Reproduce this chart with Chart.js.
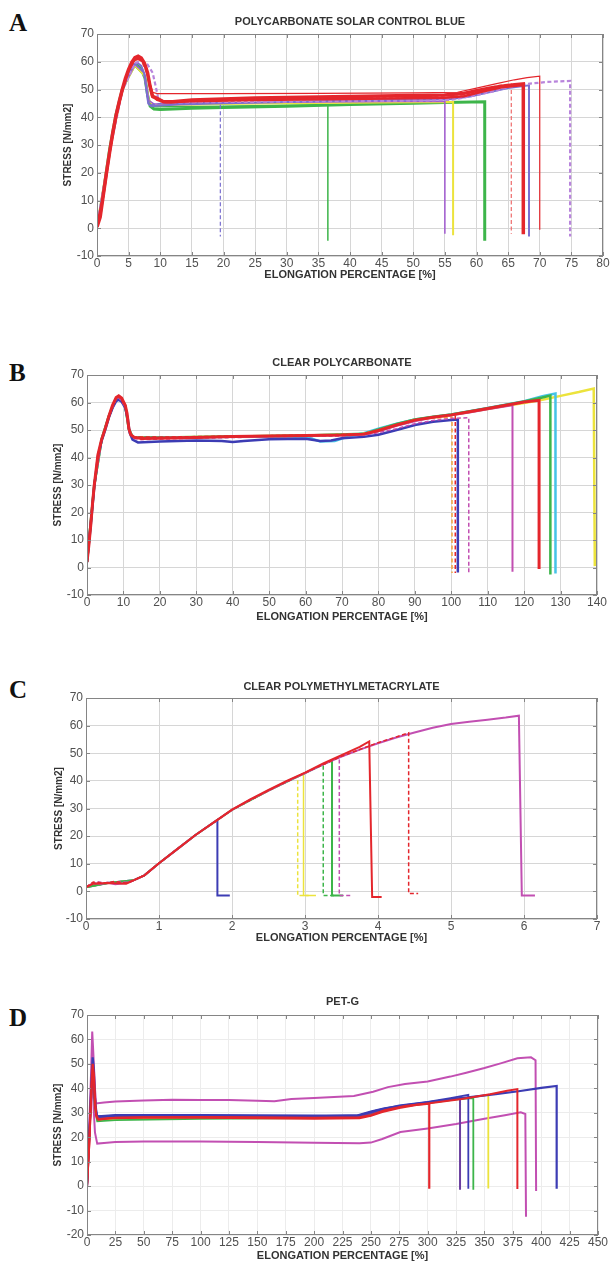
<!DOCTYPE html>
<html>
<head>
<meta charset="utf-8">
<script src="https://cdn.jsdelivr.net/npm/chart.js@4.4.0/dist/chart.umd.min.js"></script>
<style>
  body { margin: 0; background: #fff; width: 610px; height: 1262px; position: relative; overflow: hidden; }
  canvas { position: absolute; left: 0; }
  .tag { position: absolute; left: 9px; font: bold 25px "Liberation Serif", "Times New Roman", serif; line-height: 1; color: #111; }
</style>
</head>
<body>
<div class="tag" style="top:10px">A</div>
<div class="tag" style="top:360px">B</div>
<div class="tag" style="top:677px">C</div>
<div class="tag" style="top:1005px">D</div>
<canvas id="ca" width="610" height="290" style="top:0px"></canvas>
<canvas id="cb" width="610" height="290" style="top:340px"></canvas>
<canvas id="cc" width="610" height="290" style="top:660px"></canvas>
<canvas id="cd" width="610" height="290" style="top:975px"></canvas>
<script>
// colours of the test runs
var RED = '#e4262c', PINK = '#ee6a6a', BLUE = '#3c3cb4', LAV = '#7a6fd0', GREEN = '#3db54a',
    YEL = '#ece33c', PURP = '#a15bd0', LILAC = '#b884dc', MAG = '#c24fb2', CYAN = '#45c3e6',
    ORANGE = '#f2a23c', VIOLET = '#6b3fa0';

// ---- A: polycarbonate solar control blue  [elongation %, stress N/mm2]
var aRedMain = [[0,0.5],[0.5,4],[1,12],[1.5,20],[2,27.5],[2.5,34.5],[3,40.5],[3.5,45.5],[4,50],[4.5,54],[5,57.2],[5.5,59.8],[6,61.5],[6.5,62],[7,61.3],[7.5,59.5],[8,56],[8.4,51],[8.8,47.5],[9.5,46.8],[10.5,45.6],[12,45.6],[15,46.2],[20,46.6],[25,46.9],[30,47.1],[35,47.3],[40,47.5],[45,47.7],[50,47.8],[55,48],[58,48.6],[60,49.6],[62,50.5],[64,51.2],[66,51.7],[67.4,52],[67.4,-2.2]];
var aRed2 = [[0,0.5],[1,11.8],[2,27.3],[3,40.3],[4,49.8],[5,57],[5.8,60.6],[6.5,61.2],[7.2,60.2],[7.8,57.5],[8.3,52],[8.7,47.8],[9.5,46.3],[11,45.4],[15,45.8],[25,46.2],[40,46.6],[55,47],[58,47.6],[61,49.3],[64,50.8],[67.4,51.6]];
var aRedThin = [[0,0.5],[1,11.5],[2,27],[3,40],[4,49.5],[5,56.5],[6,60.5],[6.8,61],[7.5,59.5],[8.3,53],[8.8,49],[9.5,48.5],[20,48.5],[35,48.6],[50,48.8],[57,49],[60,50.5],[63,52],[66,53.5],[68,54.3],[70,54.8],[70,-0.5]];
var aRedDash = [[0,0.5],[1,11.5],[2,27],[3,40],[4,49.5],[5,57],[6,61],[7,60.3],[8,55],[8.8,47],[10,46],[15,46],[25,46.5],[40,47],[55,47.5],[58,48],[61,50],[63.5,51.5],[65.5,52],[65.5,-2]];
var aBlue = [[0,0.5],[1,12],[2,28],[3,41],[4,50],[5,56],[5.8,59],[6.4,59.6],[7,58.5],[7.5,55.5],[7.8,50],[8.1,45],[8.6,44],[10,44.2],[13,44.6],[20,45],[30,45.5],[40,46],[50,46.3],[56,46.6],[59,47.5],[62,49],[65,50.5],[68.3,51.5],[68.3,-3]];
var aBlueDash = [[0,0.5],[2,28],[4,50],[6,59.3],[7.4,56],[8,46],[8.6,44.5],[10,45],[15,45.2],[19.5,45.3],[19.5,-3]];
var aGreen = [[0,1],[0.5,5],[1,13],[2,28.5],[3,41],[4,50],[5,55.5],[5.7,58.3],[6.3,58.8],[7,57.5],[7.6,54],[8,48],[8.4,44],[9,43],[10,42.8],[15,43.2],[20,43.5],[30,44],[40,44.6],[50,45],[55,45.3],[61.3,45.6],[61.3,-4.5]];
var aGreenThin = [[0,1],[2,28],[4,50],[6,58.5],[7.5,55],[8.2,45],[9,43.8],[20,44],[30,44.3],[36.5,44.5],[36.5,-4.5]];
var aYellow = [[0,1],[2,28],[4,50],[6,58.7],[7.5,55],[8.2,46],[9,44.3],[20,44.8],[30,45],[45,45.3],[56.3,45.5],[56.3,-2.5]];
var aPurple = [[0,1],[2,28],[4,50],[6,59],[7.5,56],[8.2,46],[9,44.8],[20,45.2],[40,45.6],[55,45.8],[55,-2]];
var aPurpleDash = [[0,0.5],[2,27.5],[4,49.5],[6,59.5],[7,60.3],[8,59],[8.8,56],[9.3,51],[9.7,46.5],[11,45.3],[20,45.5],[40,45.8],[52,46],[56,46.3],[59,47.5],[62,49],[65,50.8],[68,52],[71,52.7],[74.8,53.1],[74.8,-3]];

// ---- B: clear polycarbonate
var bRed = [[0,2],[0.5,8],[1,15],[1.5,23],[2,30],[3,41],[4,46.5],[5,50.5],[6,55],[7,59],[8,61.8],[8.7,62.4],[9.5,61.6],[10.5,59],[11,56],[11.5,50.5],[12,48.3],[13,47.3],[15,46.9],[20,47],[30,47.3],[40,47.6],[50,47.8],[60,48],[70,48.2],[76,48.5],[80,49.8],[85,51.8],[90,53.6],[95,54.6],[100,55.5],[105,56.6],[110,57.8],[115,59],[120,60.2],[124.1,60.8],[124.1,-0.5]];
var bBlue = [[0,2],[1,15],[2,29.5],[3,40.5],[4,46],[5,50],[6,54.5],[7,58],[8,60.5],[8.7,61],[9.5,60.3],[10.5,58],[11.2,54],[11.7,49],[12.5,46.5],[14,45.5],[20,45.8],[30,46.2],[37,46],[40,45.6],[43,46],[50,46.6],[60,46.8],[64,46],[67,46.2],[70,47],[76,47.5],[80,48.3],[85,50],[90,51.8],[95,53],[100,53.6],[101.8,53.8],[101.8,-1.8]];
var bMagDash = [[0,2],[2,30],[4,46.3],[6,54.8],[8,61.3],[8.7,61.8],[10.5,58.5],[11.5,50],[12.5,47],[15,46.5],[30,47],[50,47.5],[70,47.8],[78,48.5],[85,50.5],[90,52.3],[95,53.5],[100,54.2],[104.8,54.5],[104.8,-2.5]];
var bOrangeDash = [[0,2],[2,30],[4,46.5],[6,55],[8,61.6],[8.7,62],[10.5,58.8],[11.5,50.3],[12.5,47.5],[20,47.2],[40,47.6],[60,48],[75,48.6],[80,50],[85,52],[90,53.8],[95,54.3],[100.2,54.6],[100.2,-2]];
var bRedDash = [[0,2],[2,30],[4,46.5],[6,55],[8,61.8],[8.7,62.2],[10.5,58.8],[11.5,50.3],[12.5,47.5],[20,47.4],[40,47.8],[60,48.1],[76,48.5],[80,49.8],[85,51.8],[90,53.6],[95,54.6],[101.1,55.4],[101.1,-2]];
var bPurple = [[0,2],[2,30],[4,46.3],[6,54.8],[8,61.5],[8.7,62],[10.5,58.7],[11.5,50.3],[12.5,47.3],[20,47.2],[40,47.5],[60,47.8],[76,48.3],[80,49.5],[85,51.5],[90,53.2],[95,54.5],[100,55.4],[105,56.4],[110,57.5],[116.8,59],[116.8,-1.5]];
var bGreen = [[0,2],[2,30],[4,46.5],[6,55],[8,61.6],[8.7,62.1],[10.5,58.8],[11.5,50.3],[12.5,47.5],[20,47.3],[40,47.6],[60,48],[76,48.6],[80,50.2],[85,52.2],[90,53.8],[95,54.8],[100,55.6],[110,57.9],[120,60.4],[125,61.8],[127.2,62.5],[127.2,-2.5]];
var bCyan = [[0,2],[2,30],[4,46.5],[6,55],[8,61.6],[8.7,62.1],[10.5,58.8],[11.5,50.3],[12.5,47.5],[20,47.2],[40,47.5],[60,47.6],[64,45.8],[68,46],[72,47.8],[76,48.8],[80,50.5],[85,52.3],[90,53.8],[100,55.6],[110,58],[120,60.5],[125,62.3],[128.6,63.3],[128.6,-2.2]];
var bYellow = [[0,2],[2,30],[4,46.5],[6,55],[8,61.6],[8.7,62],[10.5,58.8],[11.5,50.3],[12.5,47.5],[20,47.3],[40,47.6],[60,48],[76,48.5],[80,50],[85,52],[90,53.7],[100,55.5],[110,57.6],[115,58.8],[120,59.8],[125,61],[130,62.4],[135,63.8],[139.1,65.1],[139.4,0.5]];

// ---- C: clear polymethylmetacrylate
var cMag = [[0,1.5],[0.1,3],[0.2,2.7],[0.3,3.2],[0.4,2.6],[0.55,3],[0.65,4],[0.8,5.8],[1,10.2],[1.25,15.3],[1.5,20.4],[1.8,25.9],[2,29.5],[2.25,33.2],[2.5,36.5],[2.75,39.8],[3,42.8],[3.25,46],[3.5,48.8],[3.75,51.3],[4,53.6],[4.25,55.7],[4.5,57.5],[4.75,59.2],[5,60.6],[5.25,61.4],[5.5,62.1],[5.75,62.9],[5.93,63.6],[5.97,-1.5],[6.15,-1.5]];
var cRed = [[0,1.5],[0.1,2.8],[0.3,3],[0.55,2.8],[0.65,4],[0.8,5.8],[1,10.2],[1.25,15.3],[1.5,20.4],[1.8,25.9],[2,29.6],[2.25,33.3],[2.5,36.7],[2.75,40],[3,43],[3.25,46.3],[3.5,49.3],[3.75,52.3],[3.88,54.3],[3.92,-2],[4.05,-2]];
var cRedDash = [[0,1.5],[0.1,3.4],[0.25,3],[0.4,3.6],[0.55,3],[0.65,4],[0.8,5.8],[1,10.2],[1.5,20.4],[2,29.5],[2.5,36.5],[3,42.9],[3.5,48.9],[4,53.8],[4.25,55.9],[4.42,57.4],[4.42,-0.8],[4.55,-0.8]];
var cMagDash = [[0,1.5],[0.15,3.5],[0.3,2.9],[0.45,3.5],[0.6,3.3],[0.8,5.8],[1,10.2],[1.5,20.4],[2,29.5],[2.5,36.5],[3,42.8],[3.25,46],[3.47,48.5],[3.47,-1.5],[3.63,-1.5]];
var cGreen = [[0,1.5],[0.3,3],[0.65,4],[0.8,5.8],[1,10.2],[1.5,20.4],[2,29.5],[2.5,36.5],[3,42.8],[3.25,46],[3.37,47.4],[3.37,-1.5],[3.52,-1.5]];
var cGreenDash = [[0,1.5],[0.3,3],[0.65,4],[0.8,5.8],[1,10.2],[1.5,20.4],[2,29.5],[2.5,36.5],[3,42.8],[3.25,46],[3.25,-1.5],[3.4,-1.5]];
var cYellow = [[0,1.5],[0.3,3],[0.65,4],[0.8,5.8],[1,10.2],[1.5,20.4],[2,29.5],[2.5,36.5],[2.75,39.8],[2.98,42.6],[2.98,-1.5],[3.15,-1.5]];
var cYellowDash = [[0,1.5],[0.3,3],[0.65,4],[0.8,5.8],[1,10.2],[1.5,20.4],[2,29.5],[2.5,36.5],[2.75,39.8],[2.9,41.6],[2.9,-1.5],[3.05,-1.5]];
var cBlue = [[0,1.5],[0.3,3],[0.65,4],[0.8,5.8],[1,10.2],[1.25,15.3],[1.5,20.4],[1.8,25.9],[1.8,-1.5],[1.97,-1.5]];

// ---- D: PET-G
var dRed = [[0,0],[2,18],[4,42],[5,50],[6,46],[7,36],[8,29],[10,27.3],[20,27.8],[50,28],[100,28],[150,27.8],[200,27.6],[240,27.8],[250,28.8],[260,30.3],[275,32],[290,33.2],[301.4,33.7],[301.4,-1.1]];
var dRed2 = [[0,0],[2,17],[4,40],[5,48],[6,44],[7,33],[8.5,28],[10,27.2],[25,28],[50,28.2],[100,28.3],[150,28.2],[200,28],[240,28.2],[250,29],[262,31],[280,32.8],[300,33.8],[330,35.6],[355,37.6],[370,39],[379,39.7],[379,-1.2]];
var dBlue = [[0,0],[2,20],[4,44],[5,52.7],[6,48],[7,36],[8.5,29],[10,28.5],[25,29],[50,29],[100,29],[150,28.9],[200,28.8],[237,28.8],[250,30.5],[262,31.8],[280,33],[300,34.3],[330,36],[360,37.6],[380,38.8],[400,40.2],[413.6,41],[413.6,-1.1]];
var dBlue2 = [[0,0],[4,41],[5,49],[7,34],[9,28.5],[25,28.8],[100,28.8],[200,28.6],[240,29],[255,31],[275,33],[300,34.5],[320,36],[335.8,37.3],[335.8,-1.1]];
var dViolet = [[0,0],[4,40],[5,48],[7,33],[9,28],[25,28.6],[100,28.6],[200,28.4],[240,28.6],[255,30.5],[275,32.5],[300,34.2],[315,35.2],[328.5,36],[328.5,-1.5]];
var dGreen = [[0,0],[4,40],[5,47],[7,32],[9,26.5],[25,27],[100,27.5],[200,27.8],[240,28],[255,30],[275,32.3],[300,34],[325,35.5],[340.2,36],[340.2,-1.5]];
var dYellow = [[0,0],[4,40],[5,47],[7,32],[9,27],[25,27.5],[100,28],[200,28.5],[240,28.5],[255,30.5],[275,32.5],[300,34],[330,35.8],[353.4,37.3],[353.4,-1]];
var dMagUp = [[0,0],[2,25],[3.5,45],[4.6,63.2],[5.5,55],[7,40],[8,33.8],[15,34.2],[25,34.6],[50,35],[75,35.3],[100,35.2],[125,35.2],[150,34.9],[165,34.7],[180,35.6],[200,36],[235,36.9],[252,38.6],[265,40.5],[280,41.8],[300,42.8],[320,44.8],[334,46.4],[350,48.3],[365,50.3],[379,52.3],[391,52.7],[395,51.5],[395.5,-2]];
var dMagLow = [[0,0],[2,20],[3.5,38],[4.6,45],[5.5,35],[7,22],[9,17.4],[15,17.6],[25,18],[50,18.3],[100,18.3],[150,18],[200,17.7],[240,17.5],[250,17.8],[260,19.3],[276,22.1],[300,23.6],[325,25.4],[350,27.6],[368,29],[382,30.2],[386,29.5],[386.6,-12.5]];

function run(pts, color, width, dashed) {
  return {
    data: pts.map(function(p) { return {x: p[0], y: p[1]}; }),
    showLine: true,
    borderColor: color,
    borderWidth: width,
    borderDash: dashed ? [4, 2.5] : [],
    pointRadius: 0,
    tension: 0
  };
}

// box round the plot, inward ticks and the panel title
var frame = {
  id: 'frame',
  afterDraw: function(chart, args, opts) {
    var ctx = chart.ctx, a = chart.chartArea, x = chart.scales.x, y = chart.scales.y;
    ctx.save();
    ctx.strokeStyle = '#858585';
    ctx.lineWidth = 1;
    ctx.strokeRect(Math.round(a.left) + 0.5, Math.round(a.top) + 0.5, Math.round(a.width) - 1, Math.round(a.height) - 1);
    ctx.beginPath();
    x.ticks.forEach(function(t) {
      var px = Math.round(x.getPixelForValue(t.value)) + 0.5;
      ctx.moveTo(px, a.bottom); ctx.lineTo(px, a.bottom - 4);
      ctx.moveTo(px, a.top); ctx.lineTo(px, a.top + 4);
    });
    y.ticks.forEach(function(t) {
      var py = Math.round(y.getPixelForValue(t.value)) + 0.5;
      ctx.moveTo(a.left, py); ctx.lineTo(a.left + 4, py);
      ctx.moveTo(a.right, py); ctx.lineTo(a.right - 4, py);
    });
    ctx.stroke();
    ctx.fillStyle = '#333';
    ctx.font = 'bold 11px "Liberation Sans", Arial, sans-serif';
    ctx.textAlign = 'center';
    ctx.textBaseline = 'middle';
    ctx.fillText(opts.text, (a.left + a.right) / 2, opts.y);
    ctx.restore();
  }
};

function panel(id, cfg, sets) {
  var H = 290, L = cfg.yTitleX - 6;
  return new Chart(document.getElementById(id), {
    type: 'scatter',
    data: { datasets: sets },
    options: {
      responsive: false,
      animation: false,
      layout: { padding: { top: cfg.top, left: L, right: 610 - cfg.right, bottom: 0 } },
      plugins: { legend: { display: false }, tooltip: { enabled: false }, frame: { text: cfg.title, y: cfg.titleY } },
      scales: {
        x: {
          type: 'linear', min: cfg.xmin, max: cfg.xmax,
          ticks: { stepSize: cfg.xstep, autoSkip: false, maxRotation: 0, padding: 0, color: '#505050', font: { size: 12 } },
          grid: { color: cfg.grid, drawTicks: false },
          border: { display: false },
          title: { display: true, text: 'ELONGATION PERCENTAGE [%]', color: '#333', font: { size: 11, weight: 'bold' }, padding: { top: 0, bottom: H - cfg.xTitleY - 6.6 } },
          afterFit: function(s) { s.height = H - cfg.bottom; }
        },
        y: {
          min: cfg.ymin, max: 70,
          ticks: { stepSize: 10, padding: 3, color: '#505050', font: { size: 12 } },
          grid: { color: cfg.grid, drawTicks: false },
          border: { display: false },
          title: { display: true, text: 'STRESS [N/mm2]', color: '#333', font: { size: 10, weight: 'bold' }, padding: 0 },
          afterFit: function(s) { s.width = cfg.left - L; }
        }
      }
    },
    plugins: [frame]
  });
}

Chart.defaults.font.family = '"Liberation Sans", Arial, sans-serif';

panel('ca', { title: 'POLYCARBONATE SOLAR CONTROL BLUE', titleY: 22, top: 34, bottom: 256, left: 97, right: 603, xTitleY: 275, yTitleX: 68,
  xmin: 0, xmax: 80, xstep: 5, ymin: -10, grid: '#d6d6d6' }, [
  run(aRedMain, RED, 3.5), run(aRed2, RED, 2.5), run(aRedThin, RED, 1.2), run(aRedDash, PINK, 1.2, true),
  run(aPurpleDash, LILAC, 2.2, true), run(aBlue, LAV, 2), run(aBlueDash, LAV, 1.2, true),
  run(aPurple, PURP, 1.5), run(aYellow, YEL, 2), run(aGreenThin, GREEN, 1.5), run(aGreen, GREEN, 3)
]);

panel('cb', { title: 'CLEAR POLYCARBONATE', titleY: 23, top: 35, bottom: 255, left: 87, right: 597, xTitleY: 277, yTitleX: 58,
  xmin: 0, xmax: 140, xstep: 10, ymin: -10, grid: '#d6d6d6' }, [
  run(bRed, RED, 3), run(bRedDash, RED, 1.5, true), run(bMagDash, MAG, 1.5, true), run(bBlue, BLUE, 2.5),
  run(bOrangeDash, ORANGE, 1.5, true), run(bPurple, MAG, 2), run(bGreen, GREEN, 2.5), run(bCyan, CYAN, 2.5), run(bYellow, YEL, 2.5)
]);

panel('cc', { title: 'CLEAR POLYMETHYLMETACRYLATE', titleY: 27, top: 38, bottom: 259, left: 86, right: 597, xTitleY: 278, yTitleX: 59,
  xmin: 0, xmax: 7, xstep: 1, ymin: -10, grid: '#d6d6d6' }, [
  run(cRed, RED, 2), run(cRedDash, RED, 1.5, true), run(cMag, MAG, 2), run(cMagDash, MAG, 1.5, true),
  run(cGreen, GREEN, 2), run(cGreenDash, GREEN, 1.5, true), run(cYellow, YEL, 1.5), run(cYellowDash, YEL, 1.5, true), run(cBlue, BLUE, 2)
]);

panel('cd', { title: 'PET-G', titleY: 27, top: 40, bottom: 260, left: 87, right: 598, xTitleY: 281, yTitleX: 58,
  xmin: 0, xmax: 450, xstep: 25, ymin: -20, grid: '#ececec' }, [
  run(dRed, RED, 2.2), run(dRed2, RED, 2), run(dBlue, BLUE, 2.2), run(dBlue2, BLUE, 1.8), run(dViolet, VIOLET, 2),
  run(dGreen, GREEN, 1.8), run(dYellow, YEL, 1.8), run(dMagUp, MAG, 2), run(dMagLow, MAG, 2)
]);
</script>
</body>
</html>
